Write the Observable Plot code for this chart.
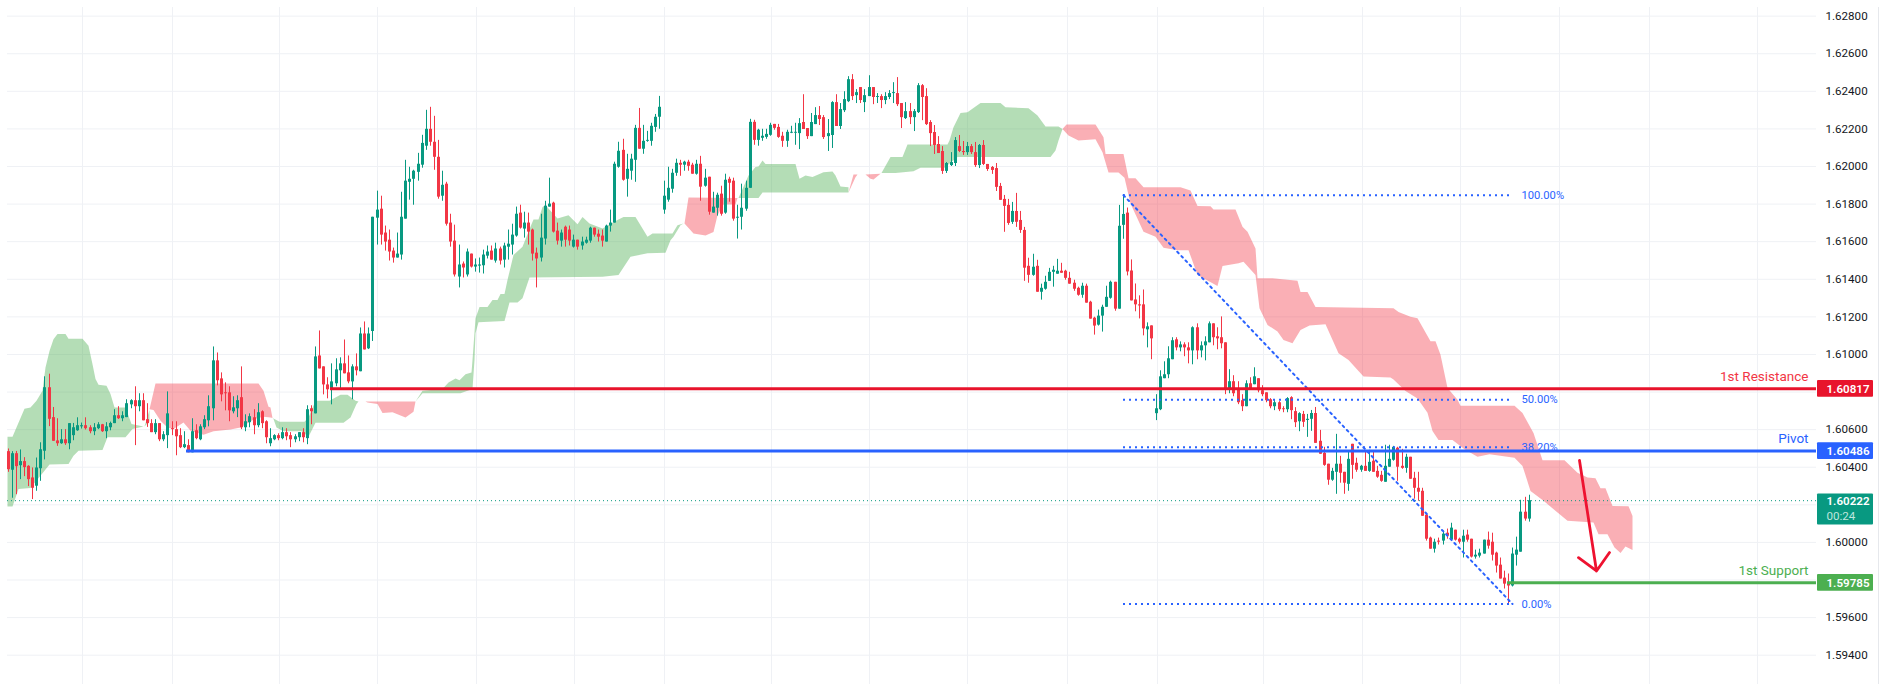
<!doctype html>
<html><head><meta charset="utf-8">
<style>html,body{margin:0;background:#fff;overflow:hidden}svg{display:block}</style>
<script src="https://cdn.jsdelivr.net/npm/d3@7"></script>
<script src="https://cdn.jsdelivr.net/npm/@observablehq/plot@0.6"></script>
</head><body>
<script>
const dirs = "RGRGRRRGGG"+"RRRGRGGGGR"+"RGGRGGGRGG"+"GRGRRRGRGG"+"RRRGRGRGGG"+"GRRRRGGRGG"+"RGRRGGRGRR"+"GGRGRGRRRG"+"GGRRGRGRGG"+"GRRRRGGGGG"
+"GGGRRRGRRR"+"GRGRGGGGRG"+"RGGGGRGRRR"+"GGGRRGRRGR"+"GGGRRRGGGG"+"RGGGRGGGGG"+"GGGGRGRRGR"+"GRGGRGRRGG"+"GGRGGGGRRR"+"GGGGRRGGRR"
+"GGRGGGRGRG"+"GRGRGGGRRG"+"RGGRRRRRRG"+"GGRRGRRGRR"+"RRRRRGRRRR"+"GRGGGGGRRR"+"RRGRRRGGGG"+"RGGRRRRRGR"+"GGGGGRGRRG"+"RGGGRRRRGR"
+"RRGRGRRRRG"+"RRGRRGRGGR"+"RRRGGRRGRR"+"GRGRRRGGGR"+"RGRRRRRRGR"+"GRGRRGRRGG"+"GRRRRRRGGG"+"RG";
const bodyTop = [
1.60483,1.60472,1.60472,1.60430,1.60430,1.60405,1.60343,1.60396,1.60493,1.60823,
1.60823,1.60664,1.60540,1.60546,1.60546,1.60632,1.60610,1.60621,1.60621,1.60621,
1.60610,1.60610,1.60626,1.60626,1.60615,1.60633,1.60674,1.60674,1.60674,1.60738,
1.60754,1.60754,1.60754,1.60754,1.60653,1.60632,1.60632,1.60632,1.60573,1.60684,
1.60605,1.60600,1.60568,1.60520,1.60515,1.60589,1.60594,1.60615,1.60653,1.60722,
1.60966,1.60966,1.60870,1.60796,1.60796,1.60716,1.60754,1.60770,1.60642,1.60669,
1.60663,1.60690,1.60695,1.60642,1.60552,1.60568,1.60568,1.60584,1.60584,1.60568,
1.60562,1.60584,1.60584,1.60706,1.60711,1.60987,1.60992,1.60934,1.60838,1.60854,
1.60918,1.60950,1.60950,1.60902,1.60934,1.60934,1.61109,1.61109,1.61109,1.61730,
1.61768,1.61773,1.61646,1.61608,1.61550,1.61534,1.61730,1.61922,1.61932,1.61975,
1.62012,1.62123,1.62198,1.62198,1.62129,1.62049,1.61900,1.61906,1.61699,1.61603,
1.61476,1.61481,1.61545,1.61534,1.61476,1.61476,1.61529,1.61545,1.61550,1.61561,
1.61561,1.61577,1.61587,1.61635,1.61746,1.61752,1.61699,1.61699,1.61662,1.61539,
1.61619,1.61789,1.61800,1.61805,1.61656,1.61646,1.61677,1.61662,1.61608,1.61608,
1.61598,1.61608,1.61672,1.61672,1.61640,1.61630,1.61683,1.61699,1.62012,1.62081,
1.62086,1.61985,1.62039,1.62203,1.62203,1.62134,1.62139,1.62214,1.62262,1.62315,
1.61842,1.61884,1.61964,1.62017,1.62017,1.62023,1.62023,1.62007,1.62012,1.62012,
1.61938,1.61943,1.61784,1.61847,1.61853,1.61927,1.61932,1.61922,1.61730,1.61778,
1.61884,1.62235,1.62235,1.62193,1.62161,1.62171,1.62219,1.62224,1.62208,1.62161,
1.62182,1.62182,1.62182,1.62228,1.62234,1.62202,1.62234,1.62271,1.62271,1.62260,
1.62175,1.62340,1.62340,1.62303,1.62356,1.62462,1.62462,1.62393,1.62420,1.62377,
1.62420,1.62420,1.62372,1.62372,1.62372,1.62388,1.62393,1.62388,1.62335,1.62292,
1.62292,1.62292,1.62430,1.62430,1.62372,1.62234,1.62181,1.62117,1.62080,1.62016,
1.62021,1.62138,1.62106,1.62080,1.62106,1.62106,1.62074,1.62112,1.62112,1.62011,
1.61995,1.61989,1.61894,1.61825,1.61793,1.61761,1.61761,1.61713,1.61660,1.61469,
1.61464,1.61469,1.61352,1.61384,1.61437,1.61448,1.61443,1.61443,1.61443,1.61405,
1.61379,1.61352,1.61363,1.61363,1.61278,1.61193,1.61204,1.61251,1.61304,1.61384,
1.61384,1.61682,1.61745,1.61752,1.61444,1.61290,1.61264,1.61264,1.61147,1.61152,
1.60711,1.60881,1.60892,1.60977,1.61073,1.61078,1.61051,1.61051,1.61035,1.61142,
1.61142,1.61046,1.61067,1.61163,1.61163,1.61094,1.61089,1.61062,1.60855,1.60855,
1.60812,1.60754,1.60844,1.60844,1.60881,1.60871,1.60807,1.60796,1.60759,1.60743,
1.60743,1.60711,1.60765,1.60770,1.60696,1.60685,1.60681,1.60655,1.60686,1.60686,
1.60538,1.60474,1.60416,1.60378,1.60416,1.60416,1.60373,1.60442,1.60522,1.60421,
1.60405,1.60405,1.60426,1.60432,1.60378,1.60357,1.60405,1.60442,1.60506,1.60501,
1.60405,1.60453,1.60453,1.60341,1.60288,1.60272,1.60145,1.60023,1.60001,1.60007,
1.60044,1.60049,1.60076,1.60065,1.60017,1.60033,1.60039,1.60017,1.59932,1.59943,
1.60012,1.60012,1.60001,1.59943,1.59879,1.59810,1.59784,1.59938,1.59959,1.60161,
1.60161,1.60222];
const bodyBottom = [
1.60387,1.60384,1.60403,1.60408,1.60398,1.60334,1.60288,1.60299,1.60392,1.60485,
1.60655,1.60538,1.60525,1.60525,1.60525,1.60525,1.60568,1.60594,1.60615,1.60605,
1.60589,1.60589,1.60605,1.60589,1.60589,1.60610,1.60632,1.60658,1.60658,1.60664,
1.60732,1.60722,1.60722,1.60647,1.60632,1.60584,1.60584,1.60546,1.60546,1.60568,
1.60600,1.60562,1.60504,1.60504,1.60477,1.60477,1.60552,1.60546,1.60610,1.60647,
1.60711,1.60860,1.60785,1.60791,1.60700,1.60695,1.60711,1.60610,1.60610,1.60637,
1.60621,1.60621,1.60632,1.60557,1.60525,1.60546,1.60552,1.60552,1.60562,1.60546,
1.60546,1.60557,1.60557,1.60552,1.60695,1.60684,1.60923,1.60838,1.60812,1.60812,
1.60844,1.60913,1.60897,1.60854,1.60854,1.60913,1.60908,1.61024,1.61030,1.61122,
1.61725,1.61635,1.61598,1.61545,1.61513,1.61513,1.61529,1.61720,1.61916,1.61932,
1.61969,1.62007,1.62108,1.62129,1.62049,1.61837,1.61842,1.61693,1.61598,1.61423,
1.61412,1.61460,1.61423,1.61465,1.61465,1.61470,1.61472,1.61523,1.61502,1.61497,
1.61497,1.61502,1.61571,1.61582,1.61630,1.61672,1.61667,1.61651,1.61534,1.61508,
1.61513,1.61614,1.61784,1.61651,1.61603,1.61603,1.61608,1.61603,1.61571,1.61571,
1.61577,1.61592,1.61603,1.61635,1.61624,1.61603,1.61598,1.61683,1.61699,1.61996,
1.61927,1.61932,1.61975,1.62033,1.62092,1.62092,1.62134,1.62134,1.62208,1.62262,
1.61768,1.61821,1.61879,1.61964,1.62007,1.62007,1.62001,1.61959,1.61959,1.61890,
1.61895,1.61757,1.61752,1.61778,1.61746,1.61752,1.61911,1.61720,1.61725,1.61730,
1.61773,1.61884,1.62139,1.62139,1.62150,1.62155,1.62166,1.62203,1.62155,1.62134,
1.62134,1.62177,1.62177,1.62175,1.62197,1.62159,1.62159,1.62223,1.62250,1.62154,
1.62159,1.62165,1.62213,1.62213,1.62297,1.62345,1.62372,1.62377,1.62351,1.62340,
1.62372,1.62367,1.62367,1.62351,1.62351,1.62367,1.62388,1.62329,1.62260,1.62255,
1.62260,1.62260,1.62287,1.62367,1.62223,1.62175,1.62112,1.62069,1.61974,1.61974,
1.62005,1.62016,1.62080,1.62074,1.62074,1.62074,1.62005,1.62005,1.62011,1.61984,
1.61979,1.61889,1.61820,1.61788,1.61697,1.61703,1.61703,1.61660,1.61459,1.61421,
1.61421,1.61331,1.61331,1.61347,1.61389,1.61437,1.61427,1.61432,1.61405,1.61374,
1.61347,1.61315,1.61315,1.61273,1.61188,1.61151,1.61156,1.61204,1.61251,1.61299,
1.61241,1.61241,1.61687,1.61439,1.61285,1.61264,1.61258,1.61136,1.61131,1.61083,
1.60685,1.60706,1.60871,1.60892,1.60972,1.61035,1.61035,1.61035,1.61019,1.61019,
1.61019,1.61019,1.61046,1.61062,1.61089,1.61083,1.61057,1.60812,1.60812,1.60791,
1.60743,1.60722,1.60722,1.60818,1.60839,1.60807,1.60786,1.60754,1.60722,1.60722,
1.60706,1.60706,1.60706,1.60701,1.60637,1.60642,1.60639,1.60649,1.60655,1.60527,
1.60469,1.60410,1.60331,1.60331,1.60373,1.60368,1.60315,1.60309,1.60410,1.60384,
1.60384,1.60378,1.60378,1.60373,1.60347,1.60325,1.60320,1.60400,1.60437,1.60400,
1.60394,1.60394,1.60336,1.60288,1.60267,1.60139,1.60017,1.59964,1.59964,1.60001,
1.60007,1.60033,1.60012,1.60012,1.60001,1.60001,1.60012,1.59922,1.59922,1.59927,
1.59938,1.59980,1.59932,1.59874,1.59805,1.59778,1.59768,1.59768,1.59932,1.59948,
1.60124,1.60124];
const high = [
1.60497,1.60483,1.60484,1.60492,1.60451,1.60408,1.60396,1.60449,1.60530,1.60881,
1.60895,1.60718,1.60658,1.60600,1.60600,1.60632,1.60633,1.60663,1.60635,1.60663,
1.60621,1.60632,1.60637,1.60628,1.60637,1.60640,1.60706,1.60722,1.60695,1.60759,
1.60759,1.60828,1.60791,1.60791,1.60738,1.60653,1.60653,1.60632,1.60589,1.60801,
1.60642,1.60642,1.60605,1.60589,1.60546,1.60658,1.60626,1.60626,1.60674,1.60780,
1.61040,1.61008,1.60902,1.60849,1.60828,1.60775,1.60780,1.60934,1.60679,1.60684,
1.60706,1.60738,1.60700,1.60647,1.60605,1.60573,1.60578,1.60610,1.60605,1.60584,
1.60573,1.60584,1.60605,1.60727,1.60727,1.61040,1.61125,1.60934,1.60876,1.60950,
1.60977,1.60982,1.61077,1.60992,1.60945,1.61003,1.61141,1.61173,1.61141,1.61730,
1.61869,1.61842,1.61683,1.61662,1.61566,1.61646,1.61863,1.62033,1.61996,1.61980,
1.62070,1.62166,1.62299,1.62315,1.62267,1.62139,1.61975,1.61916,1.61746,1.61688,
1.61582,1.61492,1.61561,1.61534,1.61508,1.61513,1.61555,1.61577,1.61577,1.61592,
1.61571,1.61592,1.61662,1.61693,1.61784,1.61794,1.61757,1.61752,1.61667,1.61566,
1.61746,1.61815,1.61938,1.61810,1.61699,1.61662,1.61683,1.61683,1.61635,1.61608,
1.61624,1.61624,1.61677,1.61672,1.61662,1.61662,1.61688,1.61768,1.62023,1.62129,
1.62145,1.62065,1.62065,1.62219,1.62309,1.62219,1.62187,1.62230,1.62277,1.62373,
1.61922,1.61996,1.61985,1.62039,1.62033,1.62028,1.62033,1.62017,1.62033,1.62054,
1.61985,1.61943,1.61863,1.61858,1.61895,1.61959,1.61943,1.61938,1.61794,1.61906,
1.61922,1.62251,1.62246,1.62198,1.62198,1.62198,1.62230,1.62224,1.62224,1.62182,
1.62193,1.62214,1.62230,1.62255,1.62382,1.62202,1.62282,1.62313,1.62319,1.62271,
1.62250,1.62345,1.62382,1.62335,1.62398,1.62478,1.62489,1.62409,1.62420,1.62409,
1.62483,1.62420,1.62388,1.62382,1.62393,1.62404,1.62446,1.62473,1.62335,1.62340,
1.62335,1.62303,1.62441,1.62436,1.62414,1.62244,1.62218,1.62159,1.62106,1.62021,
1.62074,1.62154,1.62165,1.62133,1.62128,1.62117,1.62128,1.62117,1.62138,1.62011,
1.62000,1.62016,1.61910,1.61846,1.61825,1.61809,1.61857,1.61761,1.61676,1.61512,
1.61533,1.61501,1.61374,1.61416,1.61458,1.61469,1.61506,1.61485,1.61448,1.61437,
1.61395,1.61358,1.61379,1.61374,1.61283,1.61198,1.61236,1.61262,1.61363,1.61390,
1.61384,1.61793,1.61851,1.61779,1.61503,1.61375,1.61312,1.61343,1.61168,1.61152,
1.60786,1.60913,1.60961,1.61041,1.61089,1.61089,1.61067,1.61062,1.61062,1.61147,
1.61163,1.61067,1.61094,1.61173,1.61163,1.61142,1.61200,1.61062,1.60919,1.60887,
1.60855,1.60786,1.60860,1.60876,1.60929,1.60871,1.60834,1.60796,1.60765,1.60759,
1.60749,1.60722,1.60770,1.60775,1.60717,1.60690,1.60697,1.60681,1.60702,1.60718,
1.60596,1.60506,1.60416,1.60394,1.60575,1.60458,1.60373,1.60485,1.60522,1.60448,
1.60410,1.60485,1.60490,1.60485,1.60405,1.60378,1.60517,1.60517,1.60511,1.60506,
1.60495,1.60469,1.60453,1.60373,1.60373,1.60288,1.60145,1.60028,1.60017,1.60023,
1.60060,1.60071,1.60102,1.60065,1.60023,1.60065,1.60065,1.60017,1.59959,1.59964,
1.60012,1.60055,1.60049,1.59948,1.59917,1.59847,1.59832,1.59970,1.60028,1.60224,
1.60240,1.60251];
const low = [
1.60373,1.60235,1.60254,1.60334,1.60350,1.60297,1.60228,1.60272,1.60325,1.60439,
1.60616,1.60538,1.60511,1.60522,1.60516,1.60493,1.60541,1.60591,1.60603,1.60598,
1.60578,1.60568,1.60600,1.60585,1.60552,1.60594,1.60632,1.60654,1.60642,1.60664,
1.60711,1.60515,1.60695,1.60647,1.60612,1.60584,1.60573,1.60536,1.60536,1.60499,
1.60568,1.60461,1.60499,1.60499,1.60477,1.60477,1.60546,1.60541,1.60600,1.60615,
1.60647,1.60833,1.60748,1.60700,1.60642,1.60684,1.60664,1.60600,1.60589,1.60610,
1.60573,1.60610,1.60605,1.60525,1.60509,1.60541,1.60541,1.60546,1.60541,1.60504,
1.60530,1.60536,1.60530,1.60520,1.60626,1.60684,1.60923,1.60785,1.60764,1.60732,
1.60828,1.60817,1.60897,1.60844,1.60759,1.60886,1.60908,1.61024,1.61026,1.61069,
1.61582,1.61582,1.61550,1.61497,1.61486,1.61513,1.61502,1.61720,1.61821,1.61794,
1.61922,1.61991,1.62086,1.62108,1.61980,1.61826,1.61815,1.61683,1.61571,1.61412,
1.61354,1.61407,1.61412,1.61460,1.61438,1.61433,1.61428,1.61508,1.61502,1.61486,
1.61476,1.61460,1.61502,1.61529,1.61624,1.61667,1.61619,1.61582,1.61497,1.61354,
1.61492,1.61582,1.61784,1.61646,1.61582,1.61571,1.61571,1.61577,1.61566,1.61555,
1.61555,1.61587,1.61592,1.61624,1.61598,1.61571,1.61598,1.61651,1.61699,1.61991,
1.61922,1.61837,1.61927,1.61916,1.62092,1.62065,1.62129,1.62108,1.62182,1.62198,
1.61746,1.61810,1.61858,1.61948,1.61948,1.61975,1.61975,1.61959,1.61954,1.61815,
1.61890,1.61741,1.61752,1.61736,1.61736,1.61746,1.61810,1.61709,1.61614,1.61662,
1.61762,1.61884,1.62113,1.62108,1.62134,1.62145,1.62161,1.62193,1.62150,1.62102,
1.62102,1.62175,1.62113,1.62090,1.62197,1.62144,1.62159,1.62223,1.62218,1.62144,
1.62080,1.62096,1.62213,1.62197,1.62287,1.62340,1.62351,1.62335,1.62335,1.62287,
1.62372,1.62329,1.62335,1.62308,1.62329,1.62356,1.62335,1.62319,1.62202,1.62250,
1.62223,1.62186,1.62282,1.62244,1.62218,1.62106,1.62064,1.62069,1.61958,1.61963,
1.62000,1.62000,1.62074,1.62059,1.62059,1.62064,1.61995,1.61989,1.62005,1.61974,
1.61958,1.61867,1.61820,1.61650,1.61687,1.61692,1.61676,1.61644,1.61389,1.61379,
1.61416,1.61331,1.61289,1.61342,1.61389,1.61358,1.61427,1.61432,1.61395,1.61374,
1.61336,1.61310,1.61299,1.61273,1.61188,1.61103,1.61151,1.61119,1.61251,1.61294,
1.61230,1.61241,1.61613,1.61418,1.61285,1.61227,1.61189,1.61099,1.61035,1.60972,
1.60648,1.60701,1.60871,1.60871,1.60972,1.61019,1.61014,1.60988,1.60950,1.60945,
1.60972,1.60982,1.60966,1.61062,1.61046,1.61025,1.61030,1.60786,1.60791,1.60775,
1.60733,1.60696,1.60722,1.60812,1.60839,1.60796,1.60775,1.60743,1.60711,1.60701,
1.60696,1.60690,1.60690,1.60653,1.60611,1.60589,1.60612,1.60559,1.60591,1.60527,
1.60469,1.60405,1.60304,1.60325,1.60256,1.60315,1.60256,1.60272,1.60336,1.60373,
1.60373,1.60378,1.60373,1.60373,1.60341,1.60320,1.60320,1.60400,1.60432,1.60325,
1.60389,1.60368,1.60336,1.60230,1.60219,1.60139,1.60007,1.59964,1.59943,1.59986,
1.59986,1.60017,1.60007,1.60007,1.59991,1.59917,1.60001,1.59917,1.59911,1.59917,
1.59938,1.59964,1.59901,1.59837,1.59805,1.59752,1.59672,1.59763,1.59874,1.59948,
1.60113,1.60108];

// Ichimoku cloud outlines, one bar-index list and one price list per colour; null separates patches
const greenBars = [
-0.12,1.1,4,5.5,7,8.3,9.1,10,11.2,12,14,14.8,18.1,19.7,20.5,21.3,22.1,24,25,26,28.7,30,33.1,30.3,28.7,24.2,23,17.3,15.9,14.8,10,8.3,7,5.5,2.6,1.1,-0.12,null,
33.3,33.8,34.6,34.6,null,
64.4,66.1,72.3,73.4,75.1,78.3,81.1,82.7,84.8,85.6,85,83.5,81.9,75,73.4,71.7,67.3,65.6,64.7,null,
99.4,101,105.9,107.5,109.1,110.2,111.6,113,113.2,114,115,117,118.1,119.3,120.1,121.2,121.7,123.4,125.4,127.4,128.2,129.5,130.3,131.1,134,136.8,138.8,140,141.7,144.9,148.6,150.2,153.1,155.9,157.1,162,163.2,164.8,164,162.4,161.6,160.4,155.9,151.8,149,144.9,127.2,125.4,124.2,122.2,121,114.8,114,113.7,113.4,110.4,101,null,
178.1,180.7,182.3,183.1,183.9,184.8,192.1,193.1,194.5,196.1,199,201,201.8,203,205.1,205.1,184.1,183.1,null,
213,215.2,218.1,219.3,229.1,229.5,230.7,232.2,233.9,235.6,237.2,242.1,243.3,249,251,253.1,256.3,257.3,256.3,255.5,254.3,231.5,228.3,222.6,220.9,216.5];
const greenPrices = [
1.60562,1.60562,1.60711,1.60718,1.60754,1.60807,1.60930,1.61019,1.61081,1.61109,1.61109,1.61083,1.61083,1.61046,1.60948,1.60869,1.60839,1.60833,1.60789,1.60718,1.60718,1.60630,1.60617,1.60603,1.60559,1.60559,1.60492,1.60488,1.60461,1.60417,1.60414,1.60368,1.60329,1.60290,1.60284,1.60191,1.60191,null,
1.60617,1.60651,1.60704,1.60644,null,
1.60662,1.60642,1.60642,1.60665,1.60754,1.60754,1.60785,1.60785,1.60754,1.60750,1.60736,1.60665,1.60637,1.60637,1.60562,1.60591,1.60591,1.60612,1.60656,null,
1.60750,1.60807,1.60816,1.60851,1.60872,1.60863,1.60895,1.60904,1.60971,1.61192,1.61253,1.61253,1.61290,1.61290,1.61322,1.61322,1.61396,1.61529,1.61573,1.61679,1.61718,1.61718,1.61785,1.61794,1.61723,1.61741,1.61693,1.61732,1.61697,1.61670,1.61715,1.61732,1.61732,1.61626,1.61644,1.61644,1.61688,1.61697,1.61688,1.61626,1.61608,1.61541,1.61538,1.61520,1.61423,1.61414,1.61410,1.61299,1.61276,1.61276,1.61178,1.61171,1.61113,1.60971,1.60816,1.60794,1.60794,null,
1.61832,1.61952,1.61997,1.62000,1.62032,1.62014,1.62014,1.61935,1.61952,1.61944,1.61970,1.61974,1.61952,1.61894,1.61889,1.61862,1.61862,1.61832,null,
1.61965,1.62050,1.62050,1.62117,1.62117,1.62138,1.62209,1.62285,1.62289,1.62315,1.62338,1.62338,1.62315,1.62310,1.62271,1.62213,1.62213,1.62200,1.62138,1.62085,1.62050,1.62050,1.61993,1.61993,1.61975,1.61965];
const redBars = [
34.6,36,61.2,62.4,63.6,64,64.4,64,62.4,60,56.7,54.3,50.2,47.8,44.5,42.9,40.4,38.8,37.2,35.6,null,
87.2,99.4,98.8,97,93.7,91.3,90,87.6,null,
165,165.9,178,177.4,174.6,173,172,170.1,167.3,null,
205.1,206.3,209.1,212.8,211.2,210.4,209.1,207.1,206.7,null,
257.3,258.1,265.2,267.3,267.7,272,273.2,275,277,286,288.4,290,293.3,294.1,299.4,301,302.2,304.3,304.7,308.3,314.4,315.2,317,318.9,338,339.2,342.1,343.7,346.9,348.2,349.4,351,353.5,354.3,367.3,369.3,372.1,374.2,379.5,382.7,385.2,387.2,388.4,389.6,391.3,395.3,396.2,396.2,394.5,393.3,391.7,390,388,386.8,380.3,374.6,371.3,369.3,367.3,361.2,358.3,355.1,352.2,349,347.4,346.1,343.7,340.9,338,337.2,330.7,327,324.6,321.3,317.3,315.2,313.2,311.2,309.6,307.1,305.3,304.3,301.4,300.2,296.1,294.9,290,288,285.2,281.9,279.9,277,273.8,272.3,270.9,268.3,266.9,265.2,261.2,258.7];
const redPrices = [
1.60709,1.60846,1.60846,1.60807,1.60722,1.60718,1.60662,1.60665,1.60669,1.60656,1.60612,1.60601,1.60591,1.60573,1.60594,1.60638,1.60603,1.60612,1.60647,1.60704,null,
1.60750,1.60750,1.60695,1.60665,1.60692,1.60688,1.60736,1.60745,null,
1.61697,1.61835,1.61832,1.61798,1.61798,1.61740,1.61651,1.61633,1.61644,null,
1.61862,1.61958,1.61958,1.61961,1.61931,1.61935,1.61958,1.61958,1.61943,null,
1.62200,1.62223,1.62223,1.62156,1.62067,1.62067,1.61938,1.61938,1.61889,1.61889,1.61873,1.61790,1.61789,1.61771,1.61771,1.61679,1.61653,1.61564,1.61405,1.61405,1.61392,1.61332,1.61332,1.61253,1.61246,1.61226,1.61201,1.61192,1.61070,1.61070,1.60998,1.60821,1.60759,1.60727,1.60727,1.60688,1.60582,1.60437,1.60437,1.60371,1.60345,1.60341,1.60288,1.60288,1.60194,1.60193,1.60141,1.59959,1.59978,1.59943,1.59973,1.60044,1.60044,1.60106,1.60115,1.60221,1.60274,1.60407,1.60451,1.60469,1.60456,1.60495,1.60545,1.60545,1.60593,1.60690,1.60766,1.60805,1.60867,1.60877,1.60883,1.60971,1.61007,1.61161,1.61154,1.61130,1.61060,1.61077,1.61122,1.61157,1.61246,1.61423,1.61493,1.61485,1.61470,1.61364,1.61423,1.61555,1.61555,1.61568,1.61626,1.61653,1.61803,1.61940,1.61968,1.61968,1.62076,1.62145,1.62138,1.62165];

const gridPrices = [1.594,1.596,1.598,1.6,1.602,1.604,1.606,1.608,1.61,1.612,1.614,1.616,1.618,1.62,1.622,1.624,1.626,1.628];
const tickLabels = [1.594,1.596,1.6,1.604,1.606,1.61,1.612,1.614,1.616,1.618,1.62,1.622,1.624,1.626,1.628];
const gridBars = [18.2,40.1,66.2,90.1,114.3,138.2,160.1,186.2,210.2,234,258.4,280.4,306.2,330.4,354.3,378.4,400.4,426.7];

const levelNames = ["1st Resistance","Pivot","1st Support"];
const levelPrices = [1.60817,1.60486,1.59785];
const levelStarts = [78.7,43.5,365.7];
const levelColors = ["#E8142C","#2962FF","#4CAF50"];
const levelTextColors = ["#F23645","#2962FF","#4CAF50"];
const currentPrice = 1.60222, countdown = "00:24";

const fibLabels = ["100.00%","50.00%","38.20%","0.00%"];
const fibPrices = [1.61847,1.60759,1.60506,1.59672];
const fibDiagonalBars = [272.1,367];
const fibDiagonalPrices = [1.61847,1.59672];

const arrowBars = [383.2,387.3,null,383,387.3,390.5];
const arrowPrices = [1.60436,1.59848,null,1.59919,1.59848,1.59946];

const upColor = "#089981", downColor = "#F23645", gridColor = "#EFF1F5";
const frameEnd = 441.07, axisEnd = 455, axisStart = 441.3, axisText = 443.5, fibStart = 272.1, fibEnd = 366.5, fibText = 369.2, nameEnd = 439.2, borderBar = 456.2;
const yMin = 1.59244, yMax = 1.62846;

const candles = dirs.split("").map((d,i)=>({i,up:d==="G",high:high[i],low:low[i],
  open:d==="G"?bodyBottom[i]:bodyTop[i], close:d==="G"?bodyTop[i]:bodyBottom[i]}));
const ups = candles.filter(c=>c.up), downs = candles.filter(c=>!c.up);
const levels = levelNames.map((name,k)=>({name,price:levelPrices[k],start:levelStarts[k],color:levelColors[k],text:levelTextColors[k]}));
const fibs = fibLabels.map((label,k)=>({label,price:fibPrices[k]}));
const fmt = d3.format(".5f");
const halfBadge = 0.000444;

const chart = Plot.plot({
  width:1884, height:684, marginLeft:7, marginRight:68, marginTop:7, marginBottom:0,
  style:{fontFamily:"Roboto, 'Liberation Sans', sans-serif", background:"#fff", color:"#131722", overflow:"visible"},
  x:{type:"linear", domain:[-0.122,frameEnd], round:true, axis:null},
  y:{type:"linear", domain:[yMin,yMax], axis:null},
  marks:[
    Plot.ruleY(gridPrices,{y:d=>d,x1:-0.122,x2:frameEnd,stroke:gridColor}),
    Plot.ruleX(gridBars,{x:d=>d,stroke:gridColor}),
    Plot.ruleX([borderBar],{x:d=>d,y1:yMin,y2:yMax,stroke:"#E6E8EC",clip:false}),
    Plot.line(greenPrices,{x:greenBars,y:greenPrices,fill:"#4CAF50",fillOpacity:0.42,stroke:"none",clip:true}),
    Plot.line(redPrices,{x:redBars,y:redPrices,fill:"#F23645",fillOpacity:0.4,stroke:"none",clip:true}),
    Plot.ruleY([currentPrice],{y:d=>d,x1:-0.122,x2:frameEnd,stroke:upColor,strokeDasharray:"1 3"}),
    Plot.ruleX(ups,{x:"i",y1:"low",y2:"high",stroke:upColor,strokeWidth:1,clip:true}),
    Plot.ruleX(downs,{x:"i",y1:"low",y2:"high",stroke:downColor,strokeWidth:1,clip:true}),
    Plot.ruleX(ups,{x:"i",y1:"open",y2:"close",stroke:upColor,strokeWidth:3,clip:true}),
    Plot.ruleX(downs,{x:"i",y1:"open",y2:"close",stroke:downColor,strokeWidth:3,clip:true}),
    Plot.ruleY(fibs,{y:"price",x1:fibStart,x2:fibEnd,stroke:"#2962FF",strokeWidth:2,strokeDasharray:"2 4"}),
    Plot.line(fibDiagonalPrices,{x:fibDiagonalBars,y:fibDiagonalPrices,stroke:"#2962FF",strokeWidth:2,strokeDasharray:"2 4"}),
    Plot.text(fibs,{x:fibText,y:"price",text:"label",fill:"#2962FF",textAnchor:"start",fontSize:11.2}),
    Plot.ruleY(levels,{y:"price",x1:"start",x2:frameEnd,stroke:"color",strokeWidth:3}),
    Plot.line(arrowPrices,{x:arrowBars,y:arrowPrices,stroke:"#EE1230",strokeWidth:2.8,strokeLinecap:"round",strokeLinejoin:"round"}),
    Plot.text(levels,{x:nameEnd,y:"price",text:"name",fill:"text",textAnchor:"end",fontSize:13.5,dy:-12}),
    Plot.axisY(tickLabels,{anchor:"right",tickSize:0,tickPadding:9,tickFormat:fmt,fontSize:11.6,label:null,fill:"#131722"}),
    Plot.rect(levels,{x1:axisStart,x2:axisEnd,y1:d=>d.price-halfBadge,y2:d=>d.price+halfBadge,fill:"color",rx:1,clip:false}),
    Plot.rect([currentPrice],{x1:axisStart,x2:axisEnd,y1:1.60092,y2:1.60257,fill:upColor,rx:1,clip:false}),
    Plot.text(levels,{x:axisText,y:"price",text:d=>fmt(d.price),fill:"#fff",fontWeight:600,textAnchor:"start",fontSize:11.6}),
    Plot.text([currentPrice],{x:axisText,y:d=>d,dy:1,text:d=>fmt(d),fill:"#fff",fontWeight:600,textAnchor:"start",fontSize:11.6}),
    Plot.text([countdown],{x:axisText,y:1.60138,text:d=>d,fill:"#BFE6DE",textAnchor:"start",fontSize:11.6})
  ]
});
document.body.appendChild(chart);
</script>
</body></html>
